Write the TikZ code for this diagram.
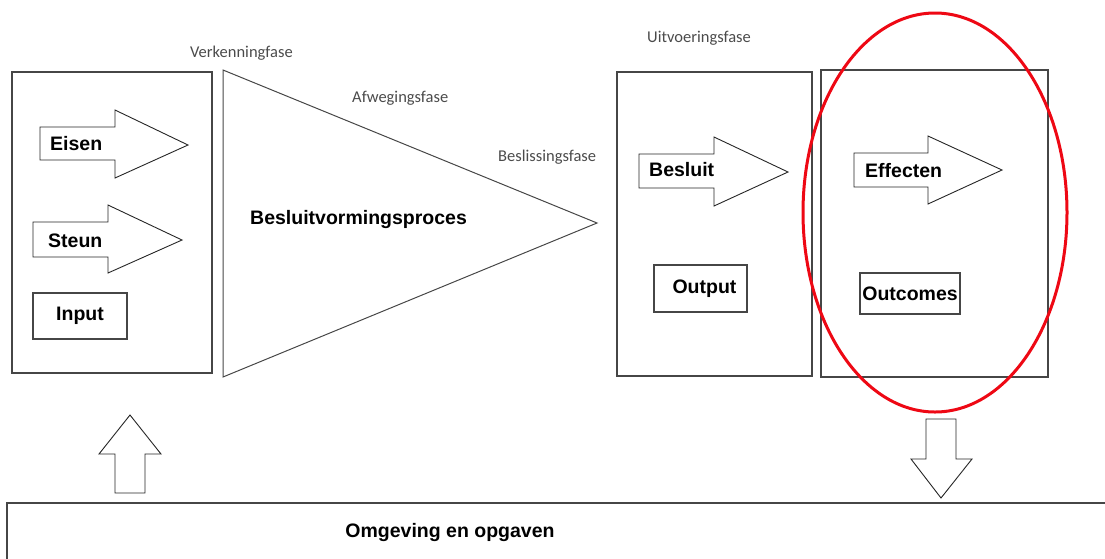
\documentclass[tikz,border=0pt]{standalone}
\usepackage{fontspec}
\setmainfont{Liberation Sans}
\newfontfamily\phasefont{Carlito}
\definecolor{hl}{RGB}{238,8,20}
\definecolor{framegray}{RGB}{70,70,70}
\definecolor{phasegray}{RGB}{75,75,75}
\begin{document}
\begin{tikzpicture}[x=1pt,y=-1pt,
  frame/.style={draw=framegray, line width=1.4pt},
  smallbox/.style={draw=framegray, line width=1.2pt, inner sep=0pt,
    font=\bfseries\fontsize{19.5}{20}\selectfont},
  blockarrow/.style={draw=black!85, line width=0.9pt, fill=white, line join=miter},
  lbl/.style={font=\bfseries\fontsize{19.5}{20}\selectfont, inner sep=0pt},
  phase/.style={font=\phasefont\fontsize{16.5}{17}\selectfont, text=phasegray, inner sep=0pt},
  highlight/.style={draw=hl, line width=3pt}]
\useasboundingbox (0,0) rectangle (1105,558);

% input frame and the decision triangle
\draw[frame] (12,72) rectangle (212,373);
\draw[frame, line width=1pt] (223,70) -- (597,223) -- (223,377) -- cycle;
% output frames
\draw[frame] (617,72) rectangle (812,376);
\draw[frame] (821,70) rectangle (1048,377);

% block arrows inside the frames
\draw[blockarrow] (40,127) -- (115,127) -- (115,110) -- (188,145) -- (115,178) -- (115,160) -- (40,160) -- cycle;
\draw[blockarrow] (33,222) -- (108,222) -- (108,205) -- (182,240) -- (108,273) -- (108,257) -- (33,257) -- cycle;
\draw[blockarrow] (639,154) -- (714,154) -- (714,137) -- (788,172) -- (714,206) -- (714,188) -- (639,188) -- cycle;
\draw[blockarrow] (854,153) -- (928,153) -- (928,136) -- (1002,170) -- (928,204) -- (928,187) -- (854,187) -- cycle;

% labels on the block arrows
\node[lbl, anchor=base west] (eisen) at (50,150) {Eisen};
\node[lbl, anchor=base west] (steun) at (48,247) {Steun};
\node[lbl, anchor=base west] (besluit) at (649,176) {Besluit};
\node[lbl, anchor=base west] (effecten) at (865,177) {Effecten};
\node[lbl, anchor=base west] (proces) at (250,224) {Besluitvormingsproces};

% small labelled boxes
\node[smallbox, minimum width=94pt, minimum height=46pt] (input) at (80,316) {Input};
\node[smallbox, minimum width=93pt, minimum height=47pt] (output) at (700.5,288.5) {\hspace*{8pt}Output};
\node[smallbox, minimum width=100pt, minimum height=41pt] (outcomes) at (910,293.5) {Outcomes};

% phase names
\node[phase, anchor=base west] (verk) at (190,57) {Verkenningfase};
\node[phase, anchor=base west] (afw) at (352,102) {Afwegingsfase};
\node[phase, anchor=base west] (besl) at (498,161) {Beslissingsfase};
\node[phase, anchor=base west] (uitv) at (647,42) {Uitvoeringsfase};

% environment band along the bottom
\begin{scope}
  \clip (0,0) rectangle (1105,558);
  \draw[frame, line width=1.6pt] (1120,503) -- (7,503) -- (7,580);
\end{scope}
\node[lbl, anchor=base] (omgeving) at (450,537) {Omgeving en opgaven};

% exchange with the environment
\draw[blockarrow] (115,493) -- (115,454) -- (99,454) -- (130,415) -- (161,454) -- (145,454) -- (145,493) -- cycle;
\draw[blockarrow] (926,419) -- (956,419) -- (956,459) -- (972,459) -- (941,498) -- (911,459) -- (926,459) -- cycle;

% highlight round the effects frame
\draw[highlight] (935,212.5) ellipse [x radius=132, y radius=199.5];
\end{tikzpicture}
\end{document}
